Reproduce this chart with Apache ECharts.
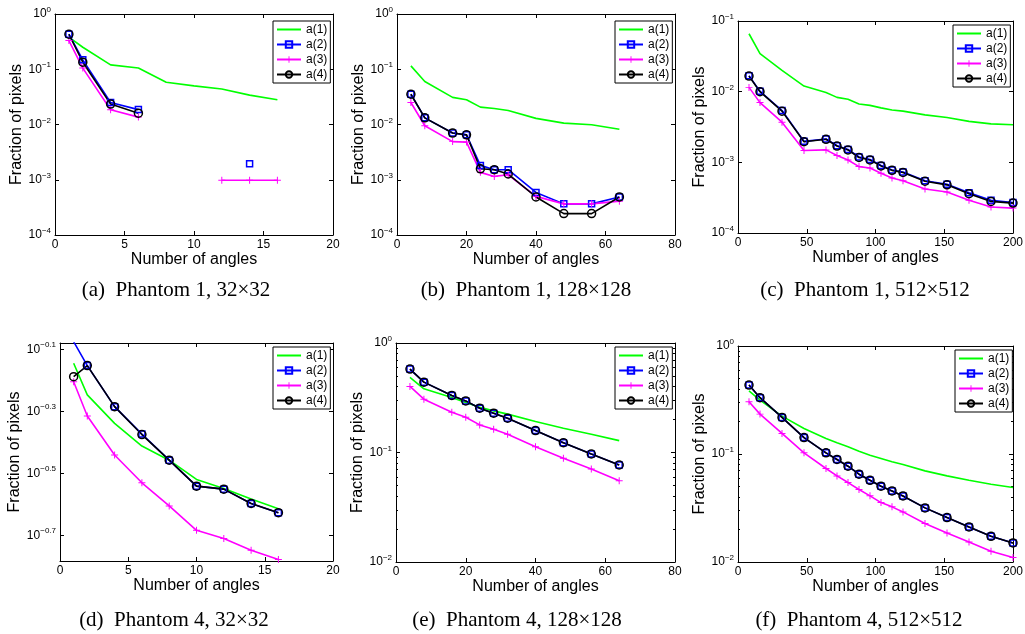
<!DOCTYPE html>
<html>
<head>
<meta charset="utf-8">
<script src="https://cdn.jsdelivr.net/npm/echarts@6/dist/echarts.min.js"></script>
<style>html,body{margin:0;padding:0;background:#fff}#fig{width:1025px;height:634px}</style>
</head>
<body>
<div id="fig"></div>
<script>
// ---- data ----
// (a) Phantom 1, 32x32   (null = zero, not drawn on log axis)
var xA  = [1, 2, 4, 6, 8, 10, 12, 14, 16];
var a1A = [0.38, 0.25, 0.12, 0.105, 0.058, 0.050, 0.044, 0.034, 0.028];
var a2A = [0.43, 0.148, 0.025, 0.0186, null, null, null, 0.00195, null];
var a3A = [0.33, 0.105, 0.0185, 0.0136, null, null, 0.000977, 0.000977, 0.000977];
var a4A = [0.43, 0.134, 0.0234, 0.016, null, null, null, null, null];
// (b) Phantom 1, 128x128
var xB  = [4, 8, 16, 20, 24, 28, 32, 40, 48, 56, 64];
var a1B = [0.115, 0.060, 0.031, 0.028, 0.0206, 0.0195, 0.0179, 0.0129, 0.0106, 0.0099, 0.0082];
var a2B = [0.0353, 0.0132, 0.0070, 0.0065, 0.00182, 0.00152, 0.00152, 0.00059, 0.000366, 0.000366, 0.000488];
var a3B = [0.025, 0.0095, 0.0049, 0.0048, 0.00136, 0.00115, 0.00123, 0.0005, 0.000366, 0.000366, 0.00041];
var a4B = [0.0353, 0.0132, 0.0070, 0.0065, 0.00158, 0.00152, 0.00127, 0.000488, 0.000244, 0.000244, 0.000488];
// (c) Phantom 1, 512x512
var xC  = [8, 16, 32, 48, 64, 72, 80, 88, 96, 104, 112, 120, 136, 152, 168, 184, 200];
var a1C = [0.066, 0.0346, 0.020, 0.012, 0.0097, 0.0083, 0.0078, 0.0067, 0.0064, 0.0059, 0.0055, 0.0053, 0.0047, 0.0043, 0.0038, 0.0035, 0.0034];
var a2C = [0.0168, 0.0101, 0.0054, 0.00198, 0.00214, 0.00172, 0.00152, 0.00119, 0.0011, 0.0009, 0.00078, 0.00073, 0.00055, 0.00049, 0.00037, 0.00029, 0.00027];
var a3C = [0.0115, 0.0070, 0.0037, 0.00147, 0.0015, 0.00125, 0.00108, 0.00087, 0.00083, 0.0007, 0.0006, 0.00055, 0.00042, 0.00038, 0.00029, 0.000233, 0.000225];
var a4C = [0.0166, 0.0100, 0.0053, 0.00196, 0.00212, 0.0017, 0.0015, 0.00117, 0.00108, 0.00089, 0.00077, 0.00072, 0.00054, 0.00048, 0.00036, 0.00028, 0.000265];
// (d) Phantom 4, 32x32
var xD  = [1, 2, 4, 6, 8, 10, 12, 14, 16];
var a1D = [0.716, 0.566, 0.458, 0.387, 0.3485, 0.302, 0.2825, 0.261, 0.243];
var a2D = [0.84, 0.7035, 0.5186, 0.423, 0.3485, 0.2873, 0.281, 0.2526, 0.236];
var a3D = [0.624, 0.484, 0.362, 0.2946, 0.248, 0.207, 0.1947, 0.1786, 0.1667];
var a4D = [0.648, 0.7035, 0.5186, 0.4215, 0.3485, 0.2873, 0.281, 0.2526, 0.236];
var tickD = [Math.pow(10, -0.7), Math.pow(10, -0.5), Math.pow(10, -0.3), Math.pow(10, -0.1)];
// (e) Phantom 4, 128x128
var xE  = [4, 8, 16, 20, 24, 28, 32, 40, 48, 56, 64];
var a1E = [0.4847, 0.382, 0.318, 0.286, 0.2594, 0.24, 0.224, 0.1916, 0.1665, 0.1466, 0.1283];
var a2E = [0.578, 0.439, 0.332, 0.296, 0.254, 0.2285, 0.2056, 0.1585, 0.123, 0.0969, 0.0769];
var a3E = [0.401, 0.307, 0.2334, 0.21, 0.1786, 0.163, 0.1466, 0.113, 0.0885, 0.0707, 0.0552];
var a4E = [0.578, 0.439, 0.332, 0.296, 0.254, 0.2285, 0.2056, 0.1585, 0.123, 0.0969, 0.0769];
// (f) Phantom 4, 512x512
var xF  = [8, 16, 32, 48, 64, 72, 80, 88, 96, 104, 112, 120, 136, 152, 168, 184, 200];
var a1F = [0.385, 0.316, 0.2244, 0.1723, 0.139, 0.127, 0.1165, 0.106, 0.0975, 0.0908, 0.0846, 0.08, 0.0698, 0.0627, 0.0572, 0.0525, 0.0489];
var a2F = [0.435, 0.332, 0.218, 0.142, 0.1025, 0.089, 0.0771, 0.065, 0.0571, 0.0503, 0.0455, 0.0409, 0.0317, 0.0258, 0.0211, 0.0173, 0.015];
var a3F = [0.305, 0.234, 0.155, 0.1025, 0.0734, 0.0627, 0.0544, 0.0469, 0.041, 0.0355, 0.0324, 0.0291, 0.0227, 0.0186, 0.0153, 0.0126, 0.011];
var a4F = [0.435, 0.332, 0.218, 0.142, 0.1025, 0.089, 0.0771, 0.065, 0.0571, 0.0503, 0.0455, 0.0409, 0.0317, 0.0258, 0.0211, 0.0173, 0.015];
// minor log ticks for (e) and (f)
var minorEF = [0.02, 0.03, 0.04, 0.05, 0.06, 0.07, 0.08, 0.09, 0.2, 0.3, 0.4, 0.5, 0.6, 0.7, 0.8, 0.9];

var names = ['a(1)', 'a(2)', 'a(3)', 'a(4)'];
var captions = ['(a)  Phantom 1, 32×32', '(b)  Phantom 1, 128×128', '(c)  Phantom 1, 512×512',
                '(d)  Phantom 4, 32×32', '(e)  Phantom 4, 128×128', '(f)  Phantom 4, 512×512'];

// ---- layout ----
var panels = [
  {x: xA, ys: [a1A, a2A, a3A, a4A], xmax: 20,  xint: 5,  ymin: 1e-4, ymax: 1,    box: [55, 14, 278, 221],  leg: [273, 21],  cap: [176, 290]},
  {x: xB, ys: [a1B, a2B, a3B, a4B], xmax: 80,  xint: 20, ymin: 1e-4, ymax: 1,    box: [397, 14, 278, 221], leg: [615, 21],  cap: [526, 290]},
  {x: xC, ys: [a1C, a2C, a3C, a4C], xmax: 200, xint: 50, ymin: 1e-4, ymax: 0.1,  box: [738, 21, 275, 212], leg: [953, 25],  cap: [865, 290]},
  {x: xD, ys: [a1D, a2D, a3D, a4D], xmax: 20,  xint: 5,  ymin: 0.1648, ymax: 0.832, box: [60, 343, 273, 218], leg: [273, 347], cap: [174, 620], ticks: tickD},
  {x: xE, ys: [a1E, a2E, a3E, a4E], xmax: 80,  xint: 20, ymin: 0.01, ymax: 1,    box: [396, 343, 279, 219], leg: [615, 347], cap: [517, 620], minor: minorEF},
  {x: xF, ys: [a1F, a2F, a3F, a4F], xmax: 200, xint: 50, ymin: 0.01, ymax: 1,    box: [738, 346, 275, 216], leg: [955, 350], cap: [859, 620], minor: minorEF}
];

var plusPath = 'path://M4.3,0H5.7V4.3H10V5.7H5.7V10H4.3V5.7H0V4.3H4.3Z';
var styles = [
  {color: '#00ff00', symbol: 'none', size: 0},
  {color: '#0000ff', symbol: 'rect', size: 6},
  {color: '#ff00ff', symbol: plusPath, size: 7},
  {color: '#000000', symbol: 'circle', size: 8}
];

function logLabel(v) {
  var e = Math.round(Math.log10(v) * 10) / 10;
  return '10{e|' + String(e).replace('-', '\u2212') + '}';
}

var font = 'Liberation Sans';
var grids = [], xAxes = [], yAxes = [], series = [], legends = [], graphics = [];

panels.forEach(function (p, i) {
  grids.push({left: p.box[0], top: p.box[1], width: p.box[2], height: p.box[3], outerBoundsMode: 'none', containLabel: false});
  var xi = xAxes.length;
  var xBase = {gridIndex: i, type: 'value', min: 0, max: p.xmax, interval: p.xint,
    axisLine: {show: true, onZero: false, lineStyle: {color: '#000', width: 1}},
    axisTick: {show: true, inside: true, length: 4, lineStyle: {color: '#000'}},
    splitLine: {show: false}};
  xAxes.push(Object.assign({}, xBase, {position: 'bottom',
    axisLabel: {color: '#000', fontFamily: font, fontSize: 12, margin: 4},
    name: 'Number of angles', nameLocation: 'middle', nameGap: 16,
    nameTextStyle: {color: '#000', fontFamily: font, fontSize: 16}}));
  xAxes.push(Object.assign({}, xBase, {position: 'top', axisLabel: {show: false}}));

  var yi = yAxes.length;
  var tickOpt = {show: true, inside: true, length: 4, lineStyle: {color: '#000'}};
  if (p.ticks) tickOpt.customValues = p.ticks;
  var yBase = {gridIndex: i, type: 'log', logBase: 10, min: p.ymin, max: p.ymax,
    axisLine: {show: true, onZero: false, lineStyle: {color: '#000', width: 1}},
    axisTick: tickOpt, splitLine: {show: false}, minorTick: {show: false}};
  var labOpt = {color: '#000', fontFamily: font, fontSize: 12, margin: 4, formatter: logLabel,
    lineHeight: 16, rich: {e: {fontSize: 8, lineHeight: 8, verticalAlign: 'top', fontFamily: font, color: '#000'}}};
  if (p.ticks) labOpt.customValues = p.ticks;
  yAxes.push(Object.assign({}, yBase, {position: 'left', axisLabel: labOpt,
    name: 'Fraction of pixels', nameLocation: 'middle', nameGap: 30,
    nameTextStyle: {color: '#000', fontFamily: font, fontSize: 16}}));
  yAxes.push(Object.assign({}, yBase, {position: 'right', axisLabel: {show: false}}));

  p.ys.forEach(function (ys, k) {
    var st = styles[k];
    series.push({
      name: names[k], type: 'line', xAxisIndex: xi, yAxisIndex: yi,
      data: p.x.map(function (x, j) { return [x, ys[j] == null ? '-' : ys[j]]; }),
      symbol: st.symbol, symbolSize: st.size, showSymbol: st.symbol !== 'none', showAllSymbol: true,
      connectNulls: false, clip: true, silent: true,
      lineStyle: {color: st.color, width: 1.6},
      itemStyle: k === 2 ? {color: st.color} : {color: 'rgba(0,0,0,0)', borderColor: st.color, borderWidth: 1.5},
      emphasis: {disabled: true}
    });
  });

  legends.push({
    left: p.leg[0], top: p.leg[1], orient: 'vertical',
    data: [{name: 'a(1)', itemStyle: {opacity: 0}}, 'a(2)', 'a(3)', 'a(4)'],
    itemWidth: 24, itemHeight: 8, itemGap: 2, padding: [2, 3, 2, 3],
    borderColor: '#000', borderWidth: 1, backgroundColor: '#fff', selectedMode: false,
    textStyle: {color: '#000', fontFamily: font, fontSize: 12, lineHeight: 13}
  });

  graphics.push({type: 'text', x: p.cap[0], y: p.cap[1], silent: true,
    style: {text: captions[i], fill: '#000', fontFamily: 'Liberation Serif', fontSize: 21,
      align: 'center', verticalAlign: 'middle'}});
});

// overlay grids carrying only the short minor ticks of the log axes in (e) and (f)
panels.forEach(function (p) {
  if (!p.minor) return;
  var g = grids.length;
  grids.push({left: p.box[0], top: p.box[1], width: p.box[2], height: p.box[3], outerBoundsMode: 'none', containLabel: false});
  xAxes.push({gridIndex: g, type: 'value', min: 0, max: p.xmax, show: false});
  ['left', 'right'].forEach(function (pos) {
    yAxes.push({gridIndex: g, type: 'log', logBase: 10, min: p.ymin, max: p.ymax, position: pos,
      axisLine: {show: false, onZero: false}, axisLabel: {show: false}, splitLine: {show: false},
      axisTick: {show: true, inside: true, length: 2, customValues: p.minor, lineStyle: {color: '#000'}}});
  });
});

var myChart = echarts.init(document.getElementById('fig'));
myChart.setOption({
  animation: false,
  backgroundColor: '#fff',
  grid: grids,
  xAxis: xAxes,
  yAxis: yAxes,
  legend: legends,
  series: series,
  graphic: graphics
});
</script>
</body>
</html>
